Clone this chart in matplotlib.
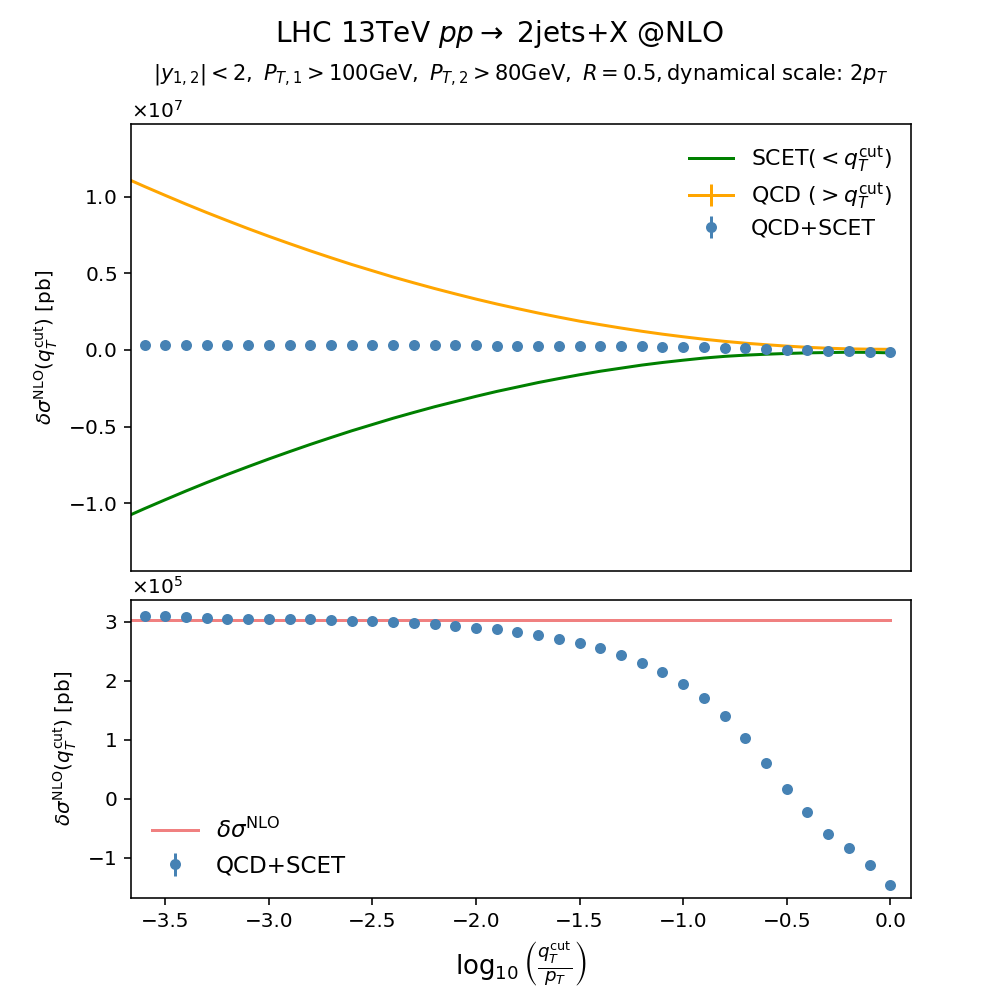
import numpy as np
from matplotlib import pyplot as plt

plt.rcParams['mathtext.fontset'] = 'dejavusans'

# log10(qT_cut / pT) grid of the combined points
x_pts = [-3.6, -3.5, -3.4, -3.3, -3.2, -3.1, -3.0, -2.9, -2.8, -2.7, -2.6, -2.5,
         -2.4, -2.3, -2.2, -2.1, -2.0, -1.9, -1.8, -1.7, -1.6, -1.5, -1.4, -1.3,
         -1.2, -1.1, -1.0, -0.9, -0.8, -0.7, -0.6, -0.5, -0.4, -0.3, -0.2, -0.1, 0.0]
# QCD+SCET in units of 1e5 pb
total = [3.10, 3.10, 3.08, 3.06, 3.055, 3.05, 3.05, 3.045, 3.045, 3.035, 3.02, 3.01,
         2.995, 2.975, 2.955, 2.93, 2.90, 2.87, 2.825, 2.78, 2.71, 2.645, 2.555, 2.44,
         2.31, 2.15, 1.95, 1.71, 1.41, 1.03, 0.60, 0.17, -0.225, -0.59, -0.84, -1.12, -1.46]
total_err = [0.0] * len(total)

# curves, in units of 1e7 pb
x_curve = [-3.7] + x_pts
qcd = [1.127, 1.067, 1.009, 0.952, 0.897, 0.844, 0.792, 0.742, 0.694, 0.647, 0.602,
       0.558, 0.517, 0.476, 0.438, 0.401, 0.366, 0.332, 0.300, 0.270, 0.241, 0.214,
       0.188, 0.165, 0.143, 0.122, 0.103, 0.086, 0.070, 0.056, 0.044, 0.034, 0.025,
       0.017, 0.011, 0.007, 0.005, 0.004]
qcd_err = [0.0] * len(qcd)
scet = [-1.096, -1.036, -0.978, -0.921, -0.866, -0.813, -0.762, -0.712, -0.664, -0.617,
        -0.572, -0.528, -0.487, -0.446, -0.408, -0.371, -0.337, -0.303, -0.271, -0.242,
        -0.213, -0.187, -0.162, -0.139, -0.119, -0.099, -0.082, -0.067, -0.053, -0.042,
        -0.034, -0.028, -0.023, -0.019, -0.017, -0.015, -0.016, -0.019]
nlo = 3.035  # 1e5 pb

x_pts = np.array(x_pts)
x_curve = np.array(x_curve)

fig = plt.figure(figsize=(998 / 144, 1004 / 144), dpi=144)
ax1 = fig.add_axes([0.1313, 0.4313, 0.7816, 0.4452])
ax2 = fig.add_axes([0.1313, 0.1056, 0.7816, 0.2968], sharex=ax1)

ax1.plot(x_curve, np.array(scet) * 1e7, color='green', label=r'SCET($<q_T^{\rm cut}$)')
ax1.errorbar(x_curve, np.array(qcd) * 1e7, yerr=np.array(qcd_err) * 1e7, color='orange',
             label=r'QCD ($>q_T^{\rm cut}$)')
ax1.errorbar(x_pts, np.array(total) * 1e5, yerr=np.array(total_err) * 1e5, fmt='o',
             ms=4.5, color='steelblue', label='QCD+SCET')
ax1.set_ylim(-1.443e7, 1.475e7)
ax1.set_yticks([-1e7, -0.5e7, 0, 0.5e7, 1e7])
ax1.ticklabel_format(axis='y', style='sci', scilimits=(0, 0), useMathText=True)
ax1.tick_params(axis='x', bottom=False, labelbottom=False)
ax1.set_ylabel(r'$\delta\sigma^{\rm NLO}(q_T^{\rm cut})$ [pb]')
ax1.legend(loc='upper right', frameon=False, fontsize=11, labelspacing=0.3)
ax1.set_title(r'$|y_{1,2}|<2,\ P_{T,1}>100{\rm GeV},\ P_{T,2}>80{\rm GeV},\ R=0.5,$'
              r'dynamical scale: $2p_T$', fontsize=10.5, pad=22)
fig.suptitle(r'LHC 13TeV $pp\to$ 2jets$+$X @NLO', fontsize=14, y=0.982)

ax2.plot(x_curve, [nlo * 1e5] * len(x_curve), color='lightcoral', label=r'$\delta\sigma^{\rm NLO}$')
ax2.errorbar(x_pts, np.array(total) * 1e5, yerr=np.array(total_err) * 1e5, fmt='o',
             ms=4.5, color='steelblue', label='QCD+SCET')
ax2.set_xlim(-3.665, 0.1)
ax2.set_ylim(-1.68e5, 3.37e5)
ax2.ticklabel_format(axis='y', style='sci', scilimits=(0, 0), useMathText=True)
ax2.set_ylabel(r'$\delta\sigma^{\rm NLO}(q_T^{\rm cut})$ [pb]')
ax2.set_xlabel(r'$\log_{10}\left(\frac{q_T^{\rm cut}}{p_T}\right)$', fontsize=13)
ax2.legend(loc='lower left', frameon=False, fontsize=11.5)

plt.savefig('out.png', dpi=144)
